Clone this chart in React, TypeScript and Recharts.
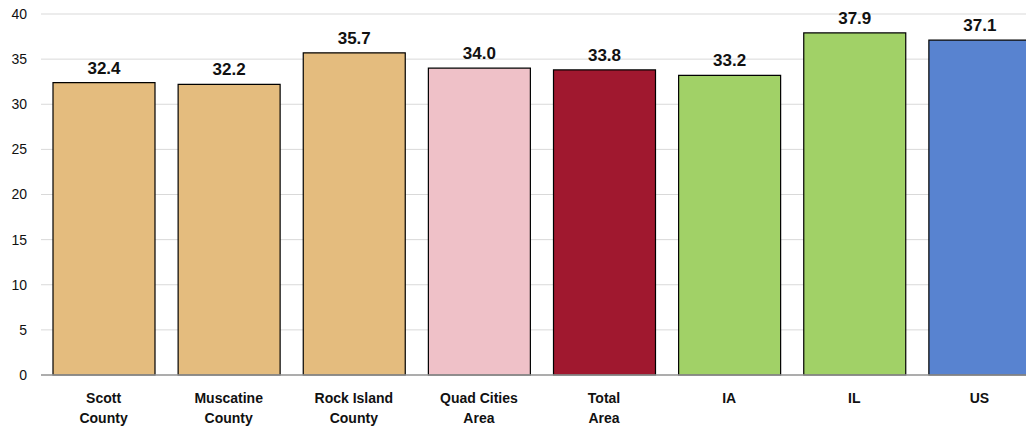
import { BarChart, Bar, XAxis, YAxis, CartesianGrid, Cell, LabelList } from 'recharts'

const categories = ['Scott\nCounty', 'Muscatine\nCounty', 'Rock Island\nCounty', 'Quad Cities\nArea', 'Total\nArea', 'IA', 'IL', 'US']
const values = [32.4, 32.2, 35.7, 34.0, 33.8, 33.2, 37.9, 37.1]
const barColors = ['#E4BC7E', '#E4BC7E', '#E4BC7E', '#EFC1C8', '#A0182F', '#A1D167', '#A1D167', '#5883D0']
const yTicks = [0, 5, 10, 15, 20, 25, 30, 35, 40]

const data = categories.map((name, i) => ({ name, value: values[i] }))

const FONT = '"Liberation Sans", Arial, sans-serif'

const CategoryTick = ({ x, y, payload }: { x?: number; y?: number; payload?: { value: string } }) => {
  const lines = (payload?.value ?? '').split('\n')
  return (
    <text x={x} y={y} textAnchor="middle" fontFamily={FONT} fontSize={14} fontWeight="bold" fill="#111">
      {lines.map((line, i) => (
        <tspan key={i} x={x} dy={i === 0 ? 20 : 20}>
          {line}
        </tspan>
      ))}
    </text>
  )
}

export default function App() {
  return (
    <div style={{ position: 'absolute', left: 0, top: 0, width: 1026, height: 428, overflow: 'hidden', background: '#fff' }}>
      <BarChart width={1042} height={428} data={data} margin={{ top: 14, right: 0, bottom: 0, left: 0 }}>
        <CartesianGrid horizontal vertical={false} stroke="#d9d9d9" />
        <XAxis
          dataKey="name"
          height={53}
          interval={0}
          tick={<CategoryTick />}
          tickLine={false}
          axisLine={{ stroke: '#999', strokeWidth: 1.5 }}
        />
        <YAxis
          width={41}
          domain={[0, 40]}
          ticks={yTicks}
          tickLine={false}
          axisLine={false}
          tickSize={12}
          tickMargin={2}
          tick={{ fontFamily: FONT, fontSize: 14, fill: '#111' }}
        />
        <Bar dataKey="value" barSize={102} stroke="#000" strokeWidth={1.2} isAnimationActive={false}>
          {data.map((_, i) => (
            <Cell key={i} fill={barColors[i]} />
          ))}
          <LabelList
            dataKey="value"
            position="top"
            offset={9}
            formatter={(v: number) => v.toFixed(1)}
            style={{ fontFamily: FONT, fontSize: 17, fontWeight: 'bold', fill: '#111' }}
          />
        </Bar>
      </BarChart>
    </div>
  )
}
